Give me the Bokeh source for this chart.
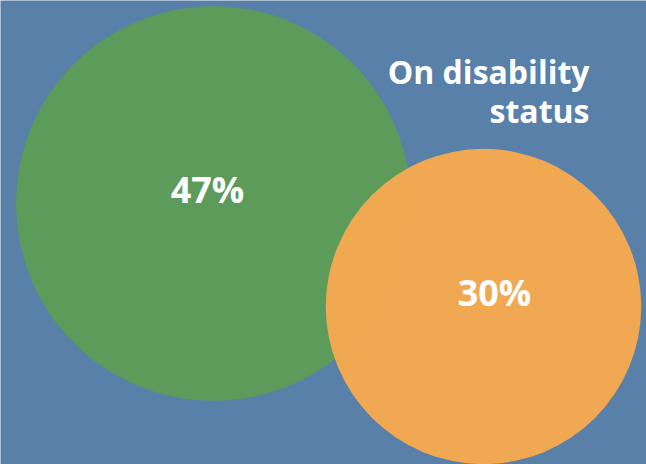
from bokeh.plotting import figure
from bokeh.models import Range1d, ColumnDataSource
from bokeh.core.properties import value
from bokeh.embed import file_html
from bokeh.resources import INLINE
import math

# Data
labels = ["47%", "30%"]
values = [47, 30]
colors = ["#5c9b59", "#f5a94f"]
title_lines = ["On disability", "status"]

# layout
W, H = 646, 464
scale = 28.8  # px per sqrt(percent)
radii = [scale * math.sqrt(v) for v in values]
cx = [213, 483]
cy = [203, 306]
label_x = [207, 494]
label_y = [189, 292]

p = figure(width=W, height=H, output_backend="svg", toolbar_location=None,
           x_range=Range1d(0, W), y_range=Range1d(H, 0),
           min_border=0, background_fill_color="#5980a8",
           border_fill_color="#5980a8", outline_line_color=None)
p.axis.visible = False
p.grid.visible = False

src = ColumnDataSource(dict(x=cx, y=cy, r=radii, c=colors, a=[1.0, 0.97]))
p.circle(x="x", y="y", radius="r", fill_color="c", fill_alpha="a",
         line_color=None, source=src)

p.text(x=label_x, y=label_y, text=labels, text_color="white",
       text_font=value("Open Sans"), text_font_style="bold",
       text_font_size="36px", text_align="center", text_baseline="middle")

p.text(x=[589, 589], y=[71, 110], text=title_lines, text_color="white",
       text_font=value("Open Sans"), text_font_style="bold",
       text_font_size="32px", text_align="right", text_baseline="alphabetic")

open("out.html", "w").write(file_html(p, INLINE))
